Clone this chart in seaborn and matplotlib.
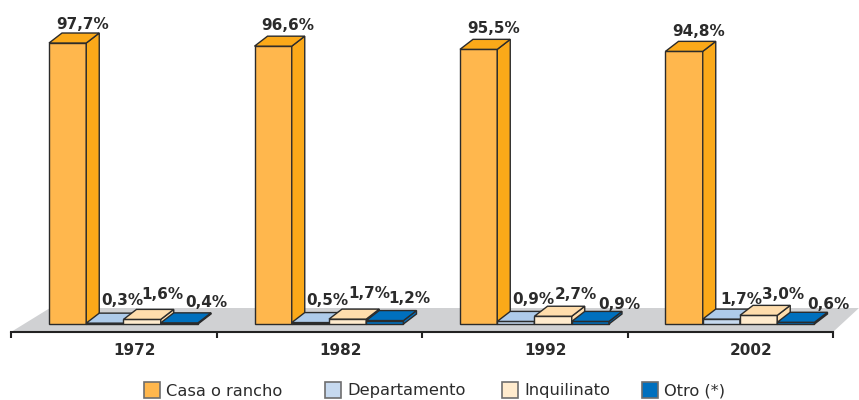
import pandas as pd
import seaborn as sns
import matplotlib.pyplot as plt
from matplotlib.patches import Polygon, Rectangle

years = ['1972', '1982', '1992', '2002']
tipos = ['Casa o rancho', 'Departamento', 'Inquilinato', 'Otro (*)']
casa = [97.7, 96.6, 95.5, 94.8]
depto = [0.3, 0.5, 0.9, 1.7]
inquilinato = [1.6, 1.7, 2.7, 3.0]
otro = [0.4, 1.2, 0.9, 0.6]

front_cols = ['#FFB74D', '#C6D9EF', '#FFEBCD', '#0070BE']
top_cols = ['#FBA919', '#AECBEA', '#FFDDAC', '#0070BE']
edge = '#2b2b2b'
txt = '#2b2b2b'

# label offsets in pixels from bar centre / bar top
nudge_x = [[15, 17, 20, 27], [15, 17, 22, 25], [15, 17, 23, 29], [15, 20, 24, 33]]
nudge_y = [[19, 23, 25, 20], [21, 22, 26, 22], [21, 22, 22, 17], [20, 20, 21, 18]]

plt.rcParams['font.family'] = ['DejaVu Sans']

df = pd.DataFrame({
    'year': years * 4,
    'tipo': [t for t in tipos for _ in years],
    'pct': casa + depto + inquilinato + otro,
})

W, H = 859, 400
fig = plt.figure(figsize=(W / 100, H / 100), dpi=100)
ax = fig.add_axes([11 / W, (H - 332) / H, (833 - 11) / W, 332 / H])

sns.barplot(data=df, x='year', y='pct', hue='tipo', hue_order=tipos, palette=front_cols,
            width=0.725, gap=0, saturation=1, edgecolor=edge, linewidth=1.0,
            legend=False, ax=ax)

px_x = 205.5       # pixels for one category
px_y = 2.876       # pixels for one percent
ax.set_xlim(-112.5 / px_x, 709.5 / px_x)
ax.set_ylim(-8 / px_y, 324 / px_y)
dx = 13 / px_x
dy = 10 / px_y

# grey floor
floor = Polygon([(-112.5 / px_x, -8 / px_y), (709.5 / px_x, -8 / px_y),
                 (735.5 / px_x, 16 / px_y), (-73.5 / px_x, 16 / px_y)],
                closed=True, fc='#D0D1D3', ec='none', zorder=1, clip_on=False)
ax.add_patch(floor)

# fake 3d faces
for h, cont in enumerate(ax.containers):
    for g, bar in enumerate(cont):
        x0 = bar.get_x()
        x1 = x0 + bar.get_width()
        v = bar.get_height()
        z = 5 + g * 10 + h * 2
        bar.set_zorder(z)
        top = Polygon([(x0, v), (x1, v), (x1 + dx, v + dy), (x0 + dx, v + dy)], closed=True,
                      fc=top_cols[h], ec=edge, lw=1.0, zorder=z, clip_on=False)
        side = Polygon([(x1, 0), (x1 + dx, dy), (x1 + dx, v + dy), (x1, v)], closed=True,
                       fc=top_cols[h], ec=edge, lw=1.0, zorder=z, clip_on=False)
        ax.add_patch(side)
        ax.add_patch(top)
        label = f'{v:.1f}'.replace('.', ',') + '%'
        ax.annotate(label, (x0 + bar.get_width() / 2, v), xytext=(nudge_x[g][h], nudge_y[g][h]),
                    textcoords='offset pixels', ha='center', va='center', fontsize=11,
                    fontweight='bold', color=txt, zorder=100, annotation_clip=False)

sns.despine(ax=ax, left=True)
ax.spines['bottom'].set_color('#222222')
ax.spines['bottom'].set_linewidth(1.5)
ax.spines['bottom'].set_zorder(200)
ax.patch.set_alpha(0)
ax.set_yticks([])
ax.set_xlabel('')
ax.set_ylabel('')
ax.set_xticks([i - 0.5 - 0.0474 for i in range(5)])
ax.set_xticklabels([])
ax.tick_params(axis='x', which='major', length=4, width=1.5, color='#222222')
ax.set_xticks([i + 0.056 for i in range(4)], labels=years, minor=True)
ax.tick_params(axis='x', which='minor', length=0, pad=8, labelsize=11, labelcolor=txt)
for t in ax.get_xticklabels(minor=True):
    t.set_fontweight('bold')

# legend, spaced by hand like the original
swatch_x = [144, 325, 502, 642]
for xp, t, c in zip(swatch_x, tipos, front_cols):
    fig.add_artist(Rectangle((xp / W, (H - 398) / H), 16 / W, 16 / H, fc=c,
                             ec='#6e6e6e', lw=1.2, transform=fig.transFigure))
    fig.text((xp + 22) / W, (H - 391) / H, t, ha='left', va='center', fontsize=11.7, color=txt)

fig.savefig('out.png', dpi=100)
